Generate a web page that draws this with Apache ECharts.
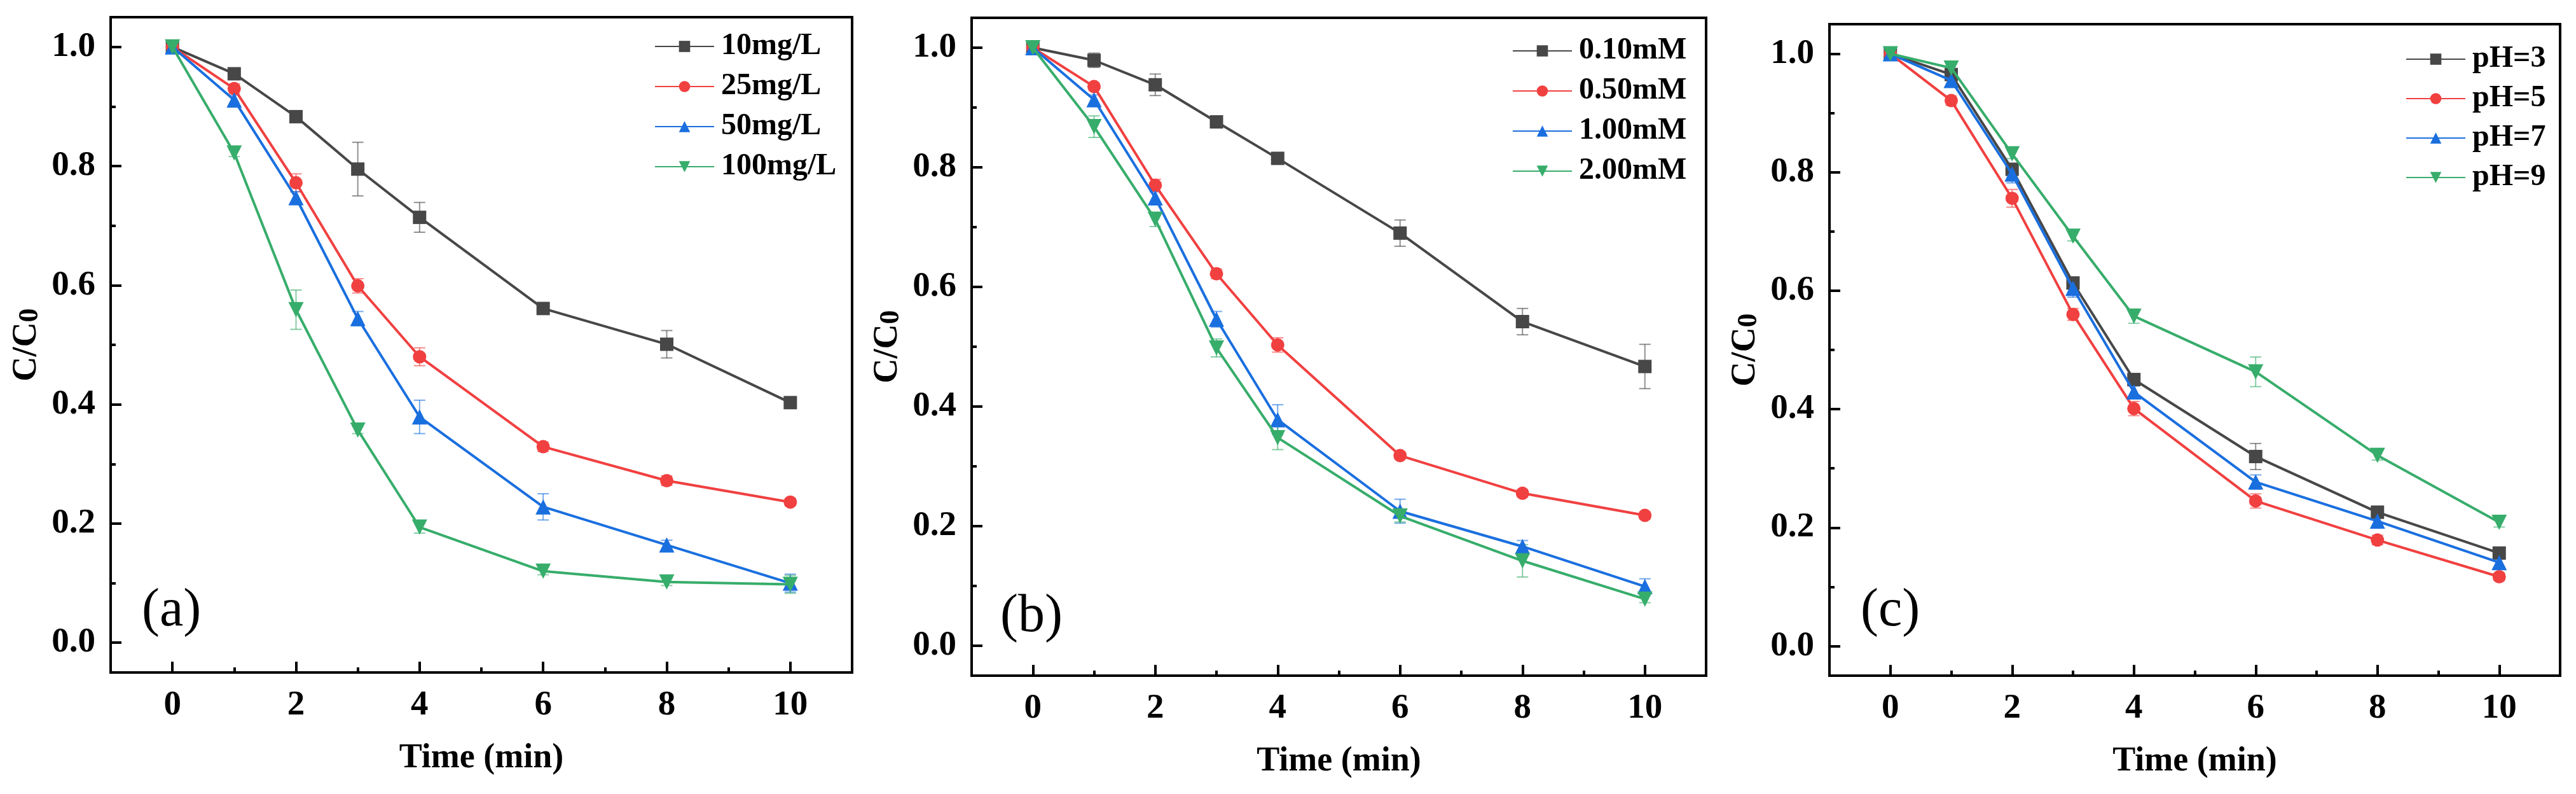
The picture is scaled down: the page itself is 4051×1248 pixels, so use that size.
<!DOCTYPE html>
<html>
<head>
<meta charset="utf-8">
<script src="https://cdn.jsdelivr.net/npm/echarts@6/dist/echarts.min.js"></script>
<style>html,body{margin:0;padding:0;background:#fff;}#c{width:4051px;height:1248px;}</style>
</head>
<body>
<div id="c"></div>
<script>
// ---------- data ----------
const time = [0, 1, 2, 3, 4, 6, 8, 10];
const xMajorTicks = [0, 2, 4, 6, 8, 10];
const xMinorTicks = [1, 3, 5, 7, 9];
const yMajorTicks = [0, 0.2, 0.4, 0.6, 0.8, 1.0];
const yMinorTicks = [0.1, 0.3, 0.5, 0.7, 0.9];

const namesA = ['10mg/L', '25mg/L', '50mg/L', '100mg/L'];
const a10 = [1.0, 0.955, 0.883, 0.795, 0.714, 0.561, 0.501, 0.403];
const a10Err = [0, 0.006, 0.006, 0.045, 0.025, 0.006, 0.023, 0.006];
const a25 = [1.0, 0.930, 0.772, 0.599, 0.480, 0.329, 0.272, 0.236];
const a25Err = [0, 0.008, 0.015, 0.012, 0.015, 0.008, 0.008, 0.006];
const a50 = [1.0, 0.911, 0.747, 0.544, 0.379, 0.228, 0.164, 0.100];
const a50Err = [0, 0.008, 0.010, 0.012, 0.028, 0.022, 0.008, 0.015];
const a100 = [1.0, 0.822, 0.559, 0.357, 0.194, 0.120, 0.102, 0.098];
const a100Err = [0, 0.006, 0.033, 0.006, 0.010, 0.006, 0.006, 0.015];

const namesB = ['0.10mM', '0.50mM', '1.00mM', '2.00mM'];
const b010 = [1.0, 0.979, 0.938, 0.876, 0.815, 0.690, 0.542, 0.467];
const b010Err = [0, 0.012, 0.018, 0.008, 0.006, 0.022, 0.022, 0.037];
const b050 = [1.0, 0.935, 0.770, 0.622, 0.503, 0.318, 0.255, 0.218];
const b050Err = [0, 0.006, 0.010, 0.008, 0.012, 0.006, 0.006, 0.006];
const b100 = [1.0, 0.913, 0.749, 0.546, 0.378, 0.225, 0.166, 0.099];
const b100Err = [0, 0.008, 0.010, 0.013, 0.025, 0.020, 0.010, 0.013];
const b200 = [1.0, 0.868, 0.713, 0.498, 0.348, 0.217, 0.142, 0.078];
const b200Err = [0, 0.018, 0.012, 0.015, 0.020, 0.010, 0.027, 0.006];

const namesC = ['pH=3', 'pH=5', 'pH=7', 'pH=9'];
const c3 = [1.0, 0.965, 0.805, 0.613, 0.450, 0.320, 0.226, 0.157];
const c3Err = [0, 0.008, 0.010, 0.010, 0.010, 0.022, 0.010, 0.008];
const c5 = [1.0, 0.921, 0.756, 0.560, 0.401, 0.245, 0.179, 0.117];
const c5Err = [0, 0.008, 0.015, 0.010, 0.012, 0.012, 0.008, 0.006];
const c7 = [1.0, 0.955, 0.797, 0.604, 0.429, 0.277, 0.211, 0.141];
const c7Err = [0, 0.010, 0.015, 0.015, 0.010, 0.012, 0.012, 0.008];
const c9 = [1.0, 0.976, 0.831, 0.692, 0.557, 0.463, 0.322, 0.209];
const c9Err = [0, 0.006, 0.008, 0.008, 0.012, 0.025, 0.008, 0.008];

const panelLabels = ['(a)', '(b)', '(c)'];
const xTitle = 'Time (min)';

// ---------- style ----------
const FONT = '"Liberation Serif", "Times New Roman", serif';
const colors = ['#474747', '#F14040', '#1A6FDF', '#37AD6B'];
const symbols = ['rect', 'circle', 'triangle', 'path://M0,0 L10,0 L5,8.66 Z'];
const symbolSizes = [21, 21, 24, 24];

const panels = [
  { names: namesA, vals: [a10, a25, a50, a100], errs: [a10Err, a25Err, a50Err, a100Err],
    grid: { left: 174, top: 27, width: 1166, height: 1030 },
    legend: { left: 1029, top: 48, gap: 13 }, label: { x: 223, y: 966 } },
  { names: namesB, vals: [b010, b050, b100, b200], errs: [b010Err, b050Err, b100Err, b200Err],
    grid: { left: 1528, top: 28, width: 1155, height: 1034 },
    legend: { left: 2378, top: 55, gap: 13 }, label: { x: 1573, y: 975 } },
  { names: namesC, vals: [c3, c5, c7, c9], errs: [c3Err, c5Err, c7Err, c9Err],
    grid: { left: 2877, top: 38, width: 1149, height: 1024 },
    legend: { left: 3783, top: 68, gap: 12 }, label: { x: 2926, y: 966 } }
];

const grids = [], xAxes = [], yAxes = [], series = [], legends = [], graphics = [];
const tickLine = { color: '#000', width: 4 };

panels.forEach((p, pi) => {
  grids.push(Object.assign({ show: true, borderColor: '#000', borderWidth: 4, backgroundColor: 'transparent' }, p.grid));
  // main x axis
  xAxes.push({
    type: 'value', gridIndex: pi, min: -1, max: 11, position: 'bottom',
    name: xTitle, nameLocation: 'middle', nameGap: 108,
    nameTextStyle: { fontFamily: FONT, fontWeight: 'bold', fontSize: 54, color: '#000' },
    axisLine: { show: false, onZero: false },
    splitLine: { show: false },
    axisTick: { show: true, inside: true, length: 17, lineStyle: tickLine, customValues: xMajorTicks },
    axisLabel: { show: true, margin: 24, fontFamily: FONT, fontWeight: 'bold', fontSize: 55, color: '#000', customValues: xMajorTicks,
      formatter: v => String(v) }
  });
  // minor x axis
  xAxes.push({
    type: 'value', gridIndex: pi, min: -1, max: 11, position: 'bottom',
    axisLine: { show: false, onZero: false }, splitLine: { show: false }, axisLabel: { show: false },
    axisTick: { show: true, inside: true, length: 8, lineStyle: tickLine, customValues: xMinorTicks }
  });
  yAxes.push({
    type: 'value', gridIndex: pi, min: -0.05, max: 1.05, position: 'left',
    name: '{a|C/C}{b|0}', nameLocation: 'middle', nameGap: 104,
    nameTextStyle: { color: '#000', rich: {
      a: { fontFamily: FONT, fontWeight: 'bold', fontSize: 54, lineHeight: 56, color: '#000' },
      b: { fontFamily: FONT, fontWeight: 'bold', fontSize: 44, lineHeight: 28, verticalAlign: 'bottom', color: '#000' }
    } },
    axisLine: { show: false, onZero: false }, splitLine: { show: false },
    axisTick: { show: true, inside: true, length: 17, lineStyle: tickLine, customValues: yMajorTicks },
    axisLabel: { show: true, margin: 24, fontFamily: FONT, fontWeight: 'bold', fontSize: 55, color: '#000', customValues: yMajorTicks,
      formatter: v => v.toFixed(1) }
  });
  yAxes.push({
    type: 'value', gridIndex: pi, min: -0.05, max: 1.05, position: 'left',
    axisLine: { show: false, onZero: false }, splitLine: { show: false }, axisLabel: { show: false },
    axisTick: { show: true, inside: true, length: 8, lineStyle: tickLine, customValues: yMinorTicks }
  });

  // error bars
  p.vals.forEach((vals, si) => {
    const col = colors[si];
    series.push({
      type: 'custom', xAxisIndex: 2 * pi, yAxisIndex: 2 * pi, z: 1, silent: true,
      data: time.map((t, i) => [t, vals[i], p.errs[si][i]]),
      renderItem: (params, api) => {
        const x = api.value(0), y = api.value(1), e = api.value(2);
        if (!e) return null;
        const top = api.coord([x, y + e]);
        const bot = api.coord([x, y - e]);
        const hw = 9;
        const st = { stroke: col, lineWidth: 2, opacity: 0.6 };
        return { type: 'group', children: [
          { type: 'line', shape: { x1: top[0], y1: top[1], x2: bot[0], y2: bot[1] }, style: st },
          { type: 'line', shape: { x1: top[0] - hw, y1: top[1], x2: top[0] + hw, y2: top[1] }, style: st },
          { type: 'line', shape: { x1: bot[0] - hw, y1: bot[1], x2: bot[0] + hw, y2: bot[1] }, style: st }
        ] };
      }
    });
  });
  // lines
  p.vals.forEach((vals, si) => {
    series.push({
      type: 'line', name: p.names[si], xAxisIndex: 2 * pi, yAxisIndex: 2 * pi, z: 2 + si,
      data: time.map((t, i) => [t, vals[i]]),
      symbol: symbols[si], symbolSize: symbolSizes[si], showAllSymbol: true,
      lineStyle: { color: colors[si], width: 4 },
      itemStyle: { color: colors[si] },
      emphasis: { disabled: true }, animation: false
    });
  });

  legends.push({
    data: p.names, orient: 'vertical', left: p.legend.left, top: p.legend.top,
    padding: 0, itemGap: p.legend.gap, itemWidth: 93, itemHeight: 22,
    textStyle: { fontFamily: FONT, fontWeight: 'bold', fontSize: 48, color: '#000', lineHeight: 50, padding: [0, 0, 0, 6] },
    selectedMode: false
  });

  graphics.push({
    type: 'text', left: p.label.x, top: p.label.y - 47,
    style: { text: panelLabels[pi], fontFamily: FONT, fontSize: 84, fill: '#000' }
  });
});

const chart = echarts.init(document.getElementById('c'), null, { renderer: 'canvas' });
chart.setOption({
  backgroundColor: '#fff',
  animation: false,
  grid: grids, xAxis: xAxes, yAxis: yAxes, series: series, legend: legends, graphic: graphics
});
</script>
</body>
</html>
